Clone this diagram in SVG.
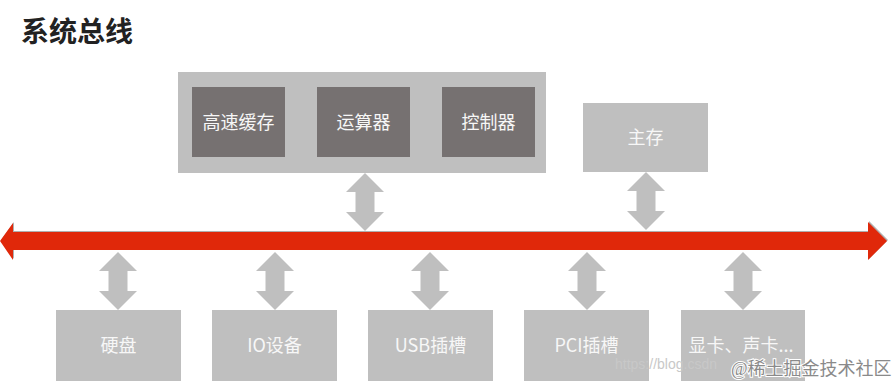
<svg xmlns="http://www.w3.org/2000/svg" xmlns:xlink="http://www.w3.org/1999/xlink" width="896" height="381" viewBox="0 0 896 381">
<defs>
<style>
.box{fill:#BFBFBF;}
.inner{fill:#767171;}
.lbl{font-family:"Noto Sans CJK SC","Liberation Sans",sans-serif;font-size:18px;fill:#F7F7F7;text-anchor:middle;font-weight:400;}
.title{font-family:"Noto Sans CJK SC","Liberation Sans",sans-serif;font-size:28px;font-weight:700;fill:#222222;}
.dbl{fill:#BFBFBF;}
.wm1{font-family:"Liberation Sans",sans-serif;font-size:14px;fill:#C8C8C8;}
.wm2{font-family:"Liberation Serif","Noto Sans CJK SC",serif;font-size:18px;fill:#8A8A8A;stroke:#FFFFFF;stroke-width:2;paint-order:stroke;}
</style>
<path id="dblarrow" class="dbl" d="M0,0 L19,19 L9.5,19 L9.5,39 L19,39 L0,58 L-19,39 L-9.5,39 L-9.5,19 L-19,19 Z"/>
</defs>
<rect width="896" height="381" fill="#FFFFFF"/>
<text class="title" x="21" y="42">系统总线</text>

<g id="connectors">
<polygon points="1,240 14,222 14,231 869,231 869,221 888,240 869,259 869,250 14,250 14,259" fill="#7A7A7A" opacity="0.6"/>
<polygon id="bus" points="0,241 13,223 13,232 868,232 868,222 887,241 868,260 868,250 13,250 13,260" fill="#E0280A"/>
<use xlink:href="#dblarrow" x="365" y="173"/>
<use xlink:href="#dblarrow" x="646" y="172"/>
<use xlink:href="#dblarrow" x="118" y="252"/>
<use xlink:href="#dblarrow" x="275" y="252"/>
<use xlink:href="#dblarrow" x="430" y="252"/>
<use xlink:href="#dblarrow" x="587" y="252"/>
<use xlink:href="#dblarrow" x="743" y="252"/>
</g>

<g id="cpu">
<rect class="box" x="178" y="72" width="368" height="101"/>
</g>
<g id="cache">
<rect class="inner" x="192" y="87" width="93" height="70"/>
<text class="lbl" x="238.5" y="129">高速缓存</text>
</g>
<g id="alu">
<rect class="inner" x="317" y="87" width="93" height="70"/>
<text class="lbl" x="363.5" y="129">运算器</text>
</g>
<g id="ctrl">
<rect class="inner" x="442" y="87" width="93" height="70"/>
<text class="lbl" x="488.5" y="129">控制器</text>
</g>
<g id="mem">
<rect class="box" x="583" y="103" width="125" height="69"/>
<text class="lbl" x="645.5" y="144">主存</text>
</g>

<g id="disk">
<rect class="box" x="56" y="310" width="125" height="80"/>
<text class="lbl" x="118.5" y="352">硬盘</text>
</g>
<g id="io">
<rect class="box" x="212" y="310" width="125" height="80"/>
<text class="lbl" x="274.5" y="352">IO设备</text>
</g>
<g id="usb">
<rect class="box" x="368" y="310" width="125" height="80"/>
<text class="lbl" x="430.5" y="352">USB插槽</text>
</g>
<g id="pci">
<rect class="box" x="524" y="310" width="125" height="80"/>
<text class="lbl" x="586.5" y="352">PCI插槽</text>
</g>
<g id="card">
<rect class="box" x="681" y="310" width="124" height="80"/>
<text class="lbl" x="741" y="352">显卡、声卡...</text>
</g>

<text class="wm1" x="615" y="369">https://blog.csdn</text>
<text class="wm2" x="731" y="375">@稀土掘金技术社区</text>
</svg>
